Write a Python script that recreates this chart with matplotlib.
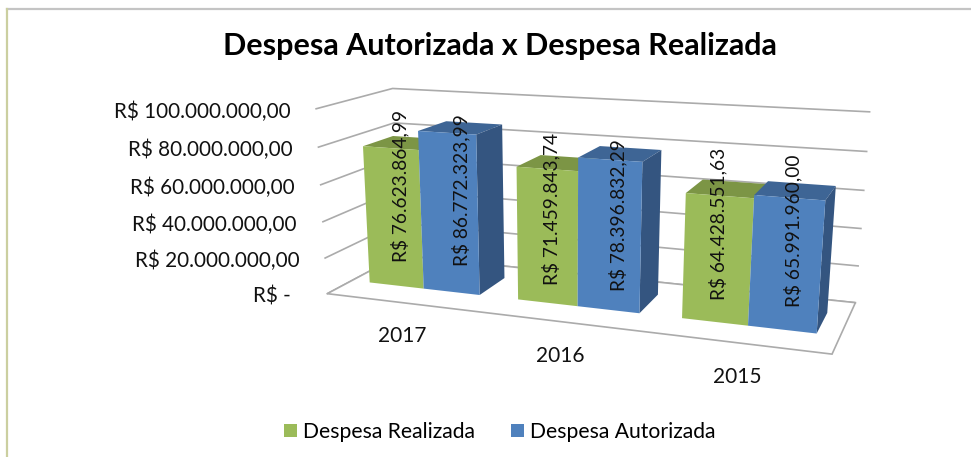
import numpy as np
import matplotlib
matplotlib.use("Agg")
import matplotlib.pyplot as plt
from matplotlib.patches import Polygon, Patch

years = ["2017", "2016", "2015"]
realizada = [76623864.99, 71459843.74, 64428551.63]
autorizada = [86772323.99, 78396832.29, 65991960.00]
axis_ticks = [0, 20000000, 40000000, 60000000, 80000000, 100000000]
axis_labels = ["R$ -  ", "R$ 20.000.000,00", "R$ 40.000.000,00", "R$ 60.000.000,00",
               "R$ 80.000.000,00", "R$ 100.000.000,00"]
series_names = ["Despesa Realizada", "Despesa Autorizada"]
label_height = [53000000, 47000000, 46500000]

GREEN = ["#9BBB59", "#7C9545"]
BLUE = ["#4F81BD", "#3E6595", "#345580"]
GRID = "#ABABAB"
FONT = "Lato"

# camera fit: box coords (x, depth, value/1e8) -> pixels in the picture
box_pts = [(0, 0, 0), (0, 0, 1), (0, 1, 1), (0, 1, 0), (1, 1, 0), (1, 1, 1), (1, 0, 0),
           (0, 0, .6), (1, 1, .6),
           (.0417, .32, 0), (.1667, .32, 0), (.2917, .32, 0), (.375, .32, 0), (.5, .32, 0),
           (.625, .32, 0), (.708, .32, 0), (.833, .32, 0), (.958, .32, 0),
           (.2917, .73, 0), (.958, .73, 0), (.2917, .32, .8677), (.958, .32, .66)]
pix_pts = [(328, 293), (315, 108), (395, 89), (397, 254), (856, 302), (870, 112), (833, 354),
           (320, 185), (865, 191),
           (372, 283), (424, 289), (478, 295), (520, 300), (578, 307),
           (638, 313), (685, 319), (749, 326), (815, 333),
           (503, 278), (825, 313), (475, 135), (823, 199)]


def fit_camera(box, pix):
    rows = []
    rhs = []
    for (x, d, z), (u, v) in zip(box, pix):
        rows.append([x, d, z, 1, 0, 0, 0, 0, -u * x, -u * d, -u * z])
        rhs.append(u)
        rows.append([0, 0, 0, 0, x, d, z, 1, -v * x, -v * d, -v * z])
        rhs.append(v)
    p = np.linalg.lstsq(np.array(rows), np.array(rhs), rcond=None)[0]
    return np.append(p, 1).reshape(3, 4)


CAM = fit_camera(box_pts, pix_pts)


def proj(x, d, value):
    h = CAM @ np.array([x, d, value / 1e8, 1])
    return h[0] / h[2], h[1] / h[2]


def draw_bar(ax, x0, x1, d0, d1, value, cols):
    # front, top, right side of one column
    front = [proj(x0, d0, 0), proj(x1, d0, 0), proj(x1, d0, value), proj(x0, d0, value)]
    top = [proj(x0, d0, value), proj(x1, d0, value), proj(x1, d1, value), proj(x0, d1, value)]
    ax.add_patch(Polygon(top, facecolor=cols[1], edgecolor="none", zorder=3))
    if len(cols) > 2:
        side = [proj(x1, d0, 0), proj(x1, d1, 0), proj(x1, d1, value), proj(x1, d0, value)]
        ax.add_patch(Polygon(side, facecolor=cols[2], edgecolor="none", zorder=3))
    ax.add_patch(Polygon(front, facecolor=cols[0], edgecolor="none", zorder=3))


fig = plt.figure(figsize=(9.71, 4.57), dpi=100)
ax = fig.add_axes([0, 0, 1, 1])
ax.set_xlim(0, 971)
ax.set_ylim(457, 0)
ax.axis("off")

# chart frame, only top and left show in the picture
ax.plot([7, 971], [9, 9], color="#C4C4C4", lw=1.6, zorder=0)
ax.plot([7, 7], [9, 457], color="#CBCFA0", lw=1.6, zorder=0)

# walls and floor
for val, lab in zip(axis_ticks, axis_labels):
    a, b, c = proj(0, 0, val), proj(0, 1, val), proj(1, 1, val)
    ax.plot([a[0], b[0], c[0]], [a[1], b[1], c[1]], color=GRID, lw=1.2, zorder=1)
    ax.text(a[0] - 26, a[1] + 3, lab, ha="right", va="center", fontsize=14.9,
            family=FONT, color="#111111")
floor = [proj(0, 0, 0), proj(1, 0, 0), proj(1, 1, 0), proj(0, 1, 0)]
ax.add_patch(Polygon(floor, closed=True, facecolor="white", edgecolor=GRID, lw=1.2, zorder=1))

bar_w = 0.125
margin = 0.0417
pitch = 1 / 3
d_front, d_back = 0.32, 0.73
for i, year in enumerate(years):
    left = i * pitch + margin
    draw_bar(ax, left, left + bar_w, d_front, d_back, realizada[i], GREEN)
    draw_bar(ax, left + bar_w, left + 2 * bar_w, d_front, d_back, autorizada[i], BLUE)
    for j, v in enumerate([realizada[i], autorizada[i]]):
        frac = 0.4 if j == 0 else 1.5
        tx, ty = proj(left + frac * bar_w, 0.5, label_height[i])
        s = f"{v:,.2f}".replace(",", "#").replace(".", ",").replace("#", ".")
        ax.text(tx, ty, "R$ " + s, rotation=90, ha="center", va="center", fontsize=13.8,
                family=FONT, color="#111111", zorder=5)
    cx, cy = proj(i * pitch + pitch / 2, 0, 0)
    ax.text(cx + 1, cy + 34, year, ha="center", va="center", fontsize=15, family=FONT, color="#111111")

ax.text(500, 46, "Despesa Autorizada x Despesa Realizada", ha="center", va="center",
        fontsize=22, fontweight="bold", family=FONT, color="black")

handles = [Patch(facecolor=GREEN[0]), Patch(facecolor=BLUE[0])]
ax.legend(handles, series_names, loc="center", bbox_to_anchor=(499.5 / 971, 1 - 432 / 457), ncol=2,
          frameon=False, prop={"family": FONT, "size": 15.2}, handlelength=0.62, handleheight=0.62,
          handletextpad=0.28, columnspacing=1.7, borderpad=0)

fig.savefig("out.png", dpi=100)
